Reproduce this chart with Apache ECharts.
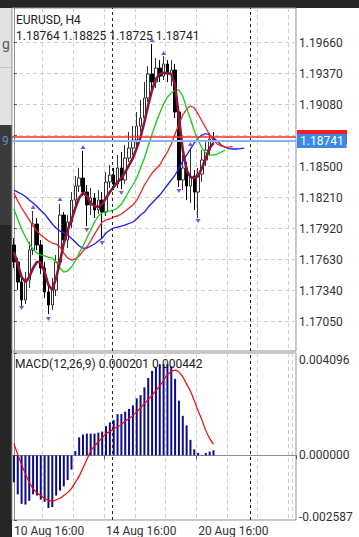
<!DOCTYPE html>
<html>
<head>
<meta charset="utf-8">
<script src="https://cdn.jsdelivr.net/npm/echarts@6/dist/echarts.min.js"></script>
<style>
  html,body{margin:0;padding:0;background:#262626;width:359px;height:537px;overflow:hidden;}
  #paper{position:absolute;left:12px;top:8px;width:347px;height:529px;background:#ffffff;}
  #chart{position:absolute;left:0;top:0;width:359px;height:537px;}
  .strip{position:absolute;left:0;width:12px;overflow:hidden;}
</style>
</head>
<body>
<div class="strip" style="top:8px;height:59px;background:#e2e2e2;"><span style="position:absolute;left:2px;top:28px;font:14px Roboto;line-height:16px;color:#5a5a5a;">g</span></div>
<div class="strip" style="top:67px;height:1px;background:#c4c4c4;"></div>
<div class="strip" style="top:68px;height:57px;background:#e2e2e2;"></div>
<div class="strip" style="top:125px;height:100px;background:#3a3a3a;"><span style="position:absolute;left:2px;top:9px;font:12px Roboto;line-height:14px;color:#5d8fd6;">9</span></div>
<div id="paper"></div>
<div id="chart"></div>
<script>
// ---- data ----
const timeLabels = ['10 Aug 16:00', '14 Aug 16:00', '20 Aug 16:00'];
const timeLabelBars = [0, 24, 48];
const visibleSlots = 74;

const opens  = [1.17768,1.17609,1.17421,1.17253,1.17440,1.17721,1.17964,1.17768,1.17552,1.17328,1.17206,1.17347,1.17609,1.18048,1.17814,1.17983,1.18188,1.18319,1.18394,1.18263,1.18142,1.18207,1.18095,1.18188,1.18076,1.18357,1.18422,1.18338,1.18488,1.18376,1.18581,1.18675,1.18750,1.18881,1.18956,1.19143,1.19367,1.19292,1.19423,1.19348,1.19461,1.19367,1.19405,1.19012,1.18376,1.18488,1.18319,1.18413,1.18263,1.18432,1.18563,1.18656,1.18764];
const closes = [1.17609,1.17421,1.17253,1.17440,1.17721,1.17964,1.17768,1.17552,1.17328,1.17206,1.17347,1.17609,1.18048,1.17814,1.17983,1.18188,1.18319,1.18394,1.18263,1.18142,1.18207,1.18095,1.18188,1.18076,1.18357,1.18422,1.18338,1.18488,1.18376,1.18581,1.18675,1.18750,1.18881,1.18956,1.19143,1.19367,1.19292,1.19423,1.19348,1.19461,1.19367,1.19405,1.19012,1.18376,1.18488,1.18319,1.18413,1.18263,1.18432,1.18563,1.18656,1.18759,1.18741];
const lows   = [1.17552,1.17347,1.17197,1.17216,1.17365,1.17674,1.17721,1.17496,1.17272,1.17122,1.17160,1.17290,1.17552,1.17758,1.17739,1.17927,1.18132,1.18263,1.18226,1.17945,1.18048,1.18020,1.18058,1.17824,1.18039,1.18301,1.18282,1.18301,1.18291,1.18338,1.18544,1.18609,1.18656,1.18825,1.18918,1.19105,1.19218,1.19236,1.19292,1.19311,1.19292,1.19255,1.18956,1.18310,1.18282,1.18188,1.18160,1.18095,1.18020,1.18357,1.18507,1.18600,1.18725];
const highs  = [1.17833,1.17646,1.17459,1.17515,1.17796,1.18086,1.18020,1.17814,1.17609,1.17393,1.17459,1.17674,1.18151,1.18076,1.18048,1.18263,1.18413,1.18488,1.18647,1.18329,1.18301,1.18254,1.18282,1.18263,1.18450,1.18516,1.18488,1.18609,1.18638,1.18703,1.18825,1.18881,1.19012,1.19124,1.19292,1.19442,1.19648,1.19517,1.19498,1.19536,1.19498,1.19498,1.19461,1.19068,1.18609,1.18544,1.18675,1.18469,1.18488,1.18656,1.18750,1.18815,1.18825];

// fast moving average (dark red)
const fastMA = [1.17702,1.17590,1.17468,1.17421,1.17468,1.17552,1.17609,1.17609,1.17515,1.17393,1.17347,1.17459,1.17609,1.17786,1.17908,1.18002,1.18114,1.18207,1.18254,1.18226,1.18160,1.18132,1.18123,1.18151,1.18207,1.18263,1.18310,1.18357,1.18394,1.18450,1.18516,1.18581,1.18675,1.18778,1.18918,1.19077,1.19218,1.19320,1.19367,1.19377,1.19377,1.19367,1.19264,1.18956,1.18656,1.18469,1.18403,1.18394,1.18413,1.18488,1.18581,1.18675,1.18722];
// alligator lines (shifted into the future)
const lips  = [1.18104,1.18011,1.17917,1.17842,1.17777,1.17730,1.17692,1.17674,1.17665,1.17655,1.17646,1.17609,1.17552,1.17515,1.17524,1.17562,1.17618,1.17692,1.17758,1.17833,1.17908,1.17983,1.18039,1.18067,1.18081,1.18086,1.18095,1.18114,1.18151,1.18207,1.18273,1.18329,1.18394,1.18488,1.18581,1.18694,1.18806,1.18909,1.19002,1.19087,1.19152,1.19189,1.19218,1.19218,1.19161,1.19049,1.18946,1.18834,1.18750,1.18675,1.18628,1.18609,1.18609,1.18619,1.18638,1.18656];
const teeth = [1.18254,1.18179,1.18114,1.18058,1.18002,1.17945,1.17898,1.17861,1.17833,1.17805,1.17786,1.17777,1.17749,1.17692,1.17646,1.17627,1.17637,1.17665,1.17711,1.17749,1.17805,1.17870,1.17927,1.17983,1.18002,1.18011,1.18030,1.18039,1.18058,1.18086,1.18114,1.18142,1.18188,1.18254,1.18329,1.18385,1.18441,1.18479,1.18516,1.18581,1.18638,1.18712,1.18806,1.18900,1.18984,1.19040,1.19068,1.19049,1.18993,1.18928,1.18862,1.18797,1.18750,1.18712,1.18694,1.18684,1.18684,1.18689];
const jaw   = [1.18282,1.18263,1.18245,1.18221,1.18188,1.18160,1.18128,1.18090,1.18058,1.18011,1.17964,1.17927,1.17898,1.17884,1.17861,1.17829,1.17796,1.17758,1.17739,1.17739,1.17758,1.17777,1.17805,1.17833,1.17880,1.17908,1.17927,1.17936,1.17945,1.17955,1.17969,1.17983,1.18011,1.18048,1.18076,1.18123,1.18160,1.18198,1.18235,1.18282,1.18329,1.18376,1.18422,1.18488,1.18553,1.18609,1.18666,1.18722,1.18769,1.18797,1.18811,1.18797,1.18769,1.18740,1.18703,1.18684,1.18670,1.18666,1.18666,1.18670,1.18675];

// fractal markers: [bar, price]
const fractalsUp   = [[5,1.18123],[12,1.18198],[18,1.18684],[36,1.19685],[39,1.19564],[46,1.18712]];
const fractalsDown = [[2,1.17178],[9,1.17075],[19,1.17908],[23,1.17786],[28,1.18254],[43,1.18273],[48,1.17992]];

const bidPrice = 1.18741;
const askPrice = 1.18778;
const priceTicks = [1.17050,1.17340,1.17630,1.17920,1.18210,1.18500,1.18790,1.19080,1.19370,1.19660];
// 1.18790 sits under the price boxes in the reference, so its label is not shown
const priceLabels = [1.17050,1.17340,1.17630,1.17920,1.18210,1.18500,1.19080,1.19370,1.19660];
const priceMin = 1.16776, priceMax = 1.19985;

// MACD(12,26,9)
const macdHist = [-0.00108,-0.00156,-0.00194,-0.00197,-0.00182,-0.00156,-0.00161,-0.00177,-0.00186,-0.00211,-0.00207,-0.00161,-0.00141,-0.00124,-0.00099,-0.00057,0.00017,0.00072,0.00083,0.00087,0.00087,0.00087,0.00091,0.00095,0.00117,0.00132,0.00141,0.00165,0.00165,0.00175,0.00186,0.00200,0.00228,0.00241,0.00272,0.00310,0.00338,0.00352,0.00365,0.00365,0.00365,0.00357,0.00306,0.00219,0.00158,0.00120,0.00062,0.00024,0.00010,0.00002,0.00010,0.00015,0.000201];
const macdSignal = [0.00047,0.00004,-0.00037,-0.00074,-0.00108,-0.00134,-0.00149,-0.00161,-0.00172,-0.00180,-0.00183,-0.00178,-0.00172,-0.00161,-0.00149,-0.00132,-0.00108,-0.00083,-0.00050,-0.00017,0.00017,0.00037,0.00054,0.00070,0.00087,0.00095,0.00106,0.00114,0.00124,0.00137,0.00147,0.00159,0.00174,0.00190,0.00207,0.00223,0.00240,0.00259,0.00277,0.00300,0.00323,0.00335,0.00341,0.00333,0.00314,0.00285,0.00257,0.00219,0.00178,0.00141,0.00099,0.00068,0.000442];
const macdMin = -0.002587, macdMax = 0.004096;
const macdTicks = [macdMin, 0, macdMax];

// week separators (between bars)
const separators = [25.5, 61.5];

// ---- chart ----
const categories = [];
for (let i = 0; i < visibleSlots; i++) {
  const k = timeLabelBars.indexOf(i);
  categories.push(k >= 0 ? timeLabels[k] : '');
}
const candleData = opens.map((o, i) => [o, closes[i], lows[i], highs[i]]);
const last = opens.length - 1;
const ohlcText = [opens[last], highs[last], lows[last], closes[last]].map(v => v.toFixed(5)).join(' ');
const macdText = 'MACD(12,26,9) ' + macdHist[last].toFixed(6) + ' ' + macdSignal[last].toFixed(6);

const FONT = 'Roboto';
const gridColor = '#cfcfcf';
const frameColor = '#8f8f8f';

const chart = echarts.init(document.getElementById('chart'), null, {renderer: 'svg', width: 359, height: 537});

const splitX = {show: true, interval: 7, lineStyle: {color: gridColor, type: [4, 3], width: 1}};

chart.setOption({
  animation: false,
  backgroundColor: 'transparent',
  textStyle: {fontFamily: FONT},
  grid: [
    {left: 12, right: 63, top: 8, height: 343, show: true, borderColor: frameColor, borderWidth: 1, backgroundColor: 'transparent'},
    {left: 12, right: 63, top: 353, height: 172, show: true, borderColor: frameColor, borderWidth: 1, backgroundColor: 'transparent'}
  ],
  xAxis: [
    {type: 'category', gridIndex: 0, data: categories, boundaryGap: true,
     axisLine: {show: false}, axisTick: {show: false}, axisLabel: {show: false}, splitLine: splitX},
    {type: 'category', gridIndex: 1, data: categories, boundaryGap: true,
     axisLine: {show: true, lineStyle: {color: frameColor}},
     axisTick: {show: true, length: 4, interval: (i) => i === 24 || i === 48, lineStyle: {color: '#555'}},
     axisLabel: {show: true, interval: 0, align: 'left', margin: 5, fontSize: 12, color: '#333', fontFamily: FONT},
     splitLine: splitX},
    {type: 'value', gridIndex: 0, min: -0.5, max: visibleSlots - 0.5, show: false},
    {type: 'value', gridIndex: 1, min: -0.5, max: visibleSlots - 0.5, show: false}
  ],
  yAxis: [
    {type: 'value', gridIndex: 0, position: 'right', min: priceMin, max: priceMax, scale: true,
     axisLine: {show: true, lineStyle: {color: frameColor}},
     axisTick: {show: true, length: 3, customValues: priceTicks, lineStyle: {color: '#555'}},
     axisLabel: {show: true, customValues: priceLabels, formatter: v => v.toFixed(5), margin: 3, fontSize: 12, color: '#333', fontFamily: FONT},
     splitLine: {show: true, lineStyle: {color: gridColor, type: [4, 3]}}},
    {type: 'value', gridIndex: 1, position: 'right', min: macdMin, max: macdMax,
     axisLine: {show: true, lineStyle: {color: frameColor}},
     axisTick: {show: true, length: 3, customValues: macdTicks, lineStyle: {color: '#555'}},
     axisLabel: {show: true, customValues: macdTicks, margin: 3, fontSize: 12, color: '#333', fontFamily: FONT,
       formatter: v => v > 0.001 ? '{t|' + v.toFixed(6) + '}' : (v < -0.001 ? '{b|' + v.toFixed(6) + '}' : '{m|0.000000}'),
       rich: {
         t: {padding: [13, 0, 0, 0], fontSize: 12, color: '#333', fontFamily: FONT},
         b: {padding: [0, 0, 7, 0], fontSize: 12, color: '#333', fontFamily: FONT},
         m: {fontSize: 12, color: '#333', fontFamily: FONT}
       }},
     splitLine: {show: true, lineStyle: {color: gridColor, type: [4, 3]}}}
  ],
  graphic: [
    {type: 'text', left: 16, top: 14, z: 100, style: {text: 'EURUSD, H4', font: '12px Roboto', fill: '#222'}},
    {type: 'text', left: 16, top: 30, z: 100, style: {text: ohlcText, font: '12px Roboto', fill: '#222'}},
    {type: 'text', left: 15, top: 358, z: 100, style: {text: macdText, font: '12px Roboto', fill: '#222'}}
  ],
  series: [
    {type: 'line', xAxisIndex: 2, yAxisIndex: 0, data: [], silent: true,
     markLine: {silent: true, symbol: 'none', precision: 3, label: {show: false}, lineStyle: {color: '#222', type: [3, 3], width: 1},
       data: separators.map(s => ({xAxis: s}))}},
    {type: 'line', xAxisIndex: 3, yAxisIndex: 1, data: [], silent: true,
     markLine: {silent: true, symbol: 'none', precision: 3, label: {show: false}, lineStyle: {color: '#222', type: [3, 3], width: 1},
       data: separators.map(s => ({xAxis: s}))}},
    {type: 'candlestick', xAxisIndex: 0, yAxisIndex: 0, data: candleData, barWidth: 3,
     itemStyle: {color: '#ffffff', color0: '#000000', borderColor: '#333333', borderColor0: '#000000', borderWidth: 1}},
    {type: 'line', xAxisIndex: 0, yAxisIndex: 0, data: jaw, symbol: 'none', lineStyle: {color: '#1c1cff', width: 1.3}},
    {type: 'line', xAxisIndex: 0, yAxisIndex: 0, data: teeth, symbol: 'none', lineStyle: {color: '#ff1c1c', width: 1.3}},
    {type: 'line', xAxisIndex: 0, yAxisIndex: 0, data: lips, symbol: 'none', lineStyle: {color: '#10d010', width: 1.3}},
    {type: 'line', xAxisIndex: 0, yAxisIndex: 0, data: fastMA, symbol: 'none', lineStyle: {color: '#8c1538', width: 2.6}},
    {type: 'scatter', xAxisIndex: 0, yAxisIndex: 0, data: fractalsUp, symbol: 'triangle', symbolSize: [5, 4], itemStyle: {color: '#6a2cc8'}},
    {type: 'scatter', xAxisIndex: 0, yAxisIndex: 0, data: fractalsDown, symbol: 'triangle', symbolRotate: 180, symbolSize: [5, 4], itemStyle: {color: '#6a2cc8'}},
    {type: 'line', xAxisIndex: 2, yAxisIndex: 0, data: [], silent: true, z: 5,
     markLine: {silent: true, symbol: 'none', precision: 5,
       data: [
         {yAxis: askPrice, lineStyle: {color: '#ff2a2a', width: 1.5, type: 'solid'},
          label: {show: true, position: 'end', distance: 1, formatter: '{a| }',
                  rich: {a: {width: 46, height: 12, backgroundColor: '#f02020', padding: [1, 2, 1, 2], fontSize: 12}}}},
         {yAxis: bidPrice, lineStyle: {color: '#86b3f2', width: 2, type: 'solid'},
          label: {show: true, position: 'end', distance: 1, formatter: bidPrice.toFixed(5), color: '#fff', backgroundColor: '#3b8ae8', padding: [1, 3, 1, 3], fontSize: 12, fontFamily: FONT}}
       ]}},
    {type: 'bar', xAxisIndex: 1, yAxisIndex: 1, data: macdHist, barWidth: 2, itemStyle: {color: '#0c0c8c'}},
    {type: 'line', xAxisIndex: 1, yAxisIndex: 1, data: macdSignal, symbol: 'none', smooth: 0.3, lineStyle: {color: '#ff0000', width: 1.2}}
  ]
});
</script>
</body>
</html>
